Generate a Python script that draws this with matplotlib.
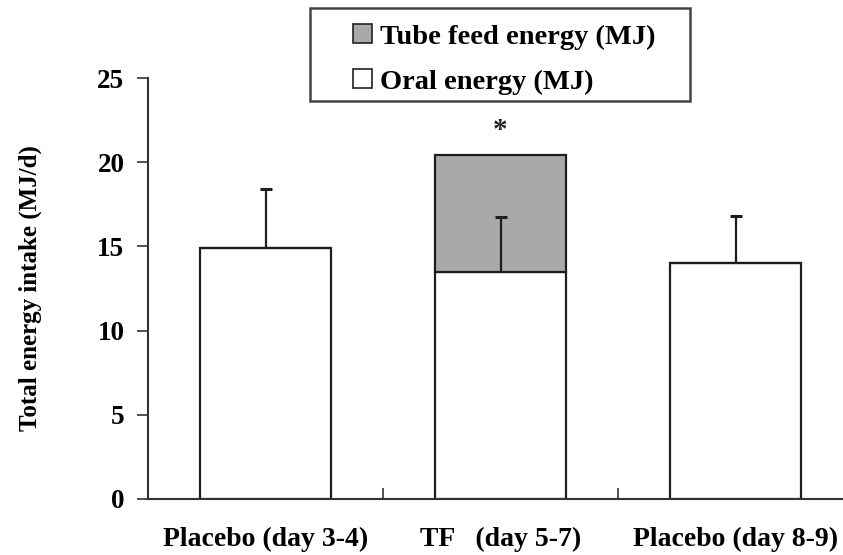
import matplotlib
matplotlib.use("Agg")
import matplotlib.pyplot as plt
from matplotlib.patches import Patch, Rectangle

plt.rcParams['font.family'] = ['Liberation Serif', 'DejaVu Serif']
plt.rcParams['font.weight'] = 'bold'

categories = ['Placebo (day 3-4)', 'TF   (day 5-7)', 'Placebo (day 8-9)']
oral_energy = [14.9, 13.5, 14.0]
tube_energy = [0.0, 6.9, 0.0]
oral_err = [3.5, 3.25, 2.8]
y_ticks = [0, 5, 10, 15, 20, 25]

W, H = 843, 555
fig = plt.figure(figsize=(W / 100, H / 100), dpi=100)
x0, x1 = 148, 853
y0, y1 = 499, 78
ax = fig.add_axes([x0 / W, (H - y0) / H, (x1 - x0) / W, (y0 - y1) / H])

edge = '#1e1e1e'
gray = '#a9a9a9'
pos = list(range(len(categories)))
ax.bar(pos, oral_energy, width=0.56, color='white', edgecolor=edge, linewidth=1.6, zorder=2)
ax.bar(pos, tube_energy, width=0.56, bottom=oral_energy, color=gray,
       edgecolor=edge, linewidth=1.6, zorder=2)
eb = ax.errorbar(pos, oral_energy, yerr=[[0] * 3, oral_err], fmt='none', ecolor=edge,
                 elinewidth=1.6, capsize=4, capthick=2.2, zorder=3)
eb[1][0].set_visible(False)

ax.text(1, 21.9, '*', ha='center', va='center', fontsize=21, color='#222')

ax.set_xlim(-0.5, 2.5)
ax.set_ylim(0, 25)
ax.set_yticks(y_ticks)
ax.set_xticks(pos)
ax.set_xticklabels(categories)
ax.set_xticks([0.5, 1.5], minor=True)
ax.tick_params(axis='x', which='major', length=0, pad=20, labelsize=20)
ax.tick_params(axis='x', which='minor', direction='in', length=8, width=1.2, color='#333')
ax.tick_params(axis='y', direction='out', length=8, width=1.2, color='#333', pad=9, labelsize=19.5)
for s in ['top', 'right']:
    ax.spines[s].set_visible(False)
for s in ['left', 'bottom']:
    ax.spines[s].set_color('#333')
    ax.spines[s].set_linewidth(1.5)

ax.set_ylabel('Total energy intake (MJ/d)', fontsize=18, fontweight='bold', labelpad=40)

# legend box
fig.patches.append(Rectangle((310 / W, 1 - 101 / H), (690 - 310) / W, (101 - 8) / H,
                             transform=fig.transFigure, facecolor='white',
                             edgecolor='#444', linewidth=1.8, zorder=5))
handles = [Patch(facecolor=gray, edgecolor='#222', linewidth=1.2, label='Tube feed energy (MJ)'),
           Patch(facecolor='white', edgecolor='#222', linewidth=1.2, label='Oral energy (MJ)')]
leg = fig.legend(handles=handles, loc='upper left',
                 bbox_to_anchor=(353 / W, 1 - 24 / H), frameon=False,
                 fontsize=20.5, handlelength=0.65, handleheight=0.65,
                 handletextpad=0.3, labelspacing=0.7, borderpad=0, borderaxespad=0)
leg.set_zorder(6)

fig.savefig('out.png', dpi=100)
